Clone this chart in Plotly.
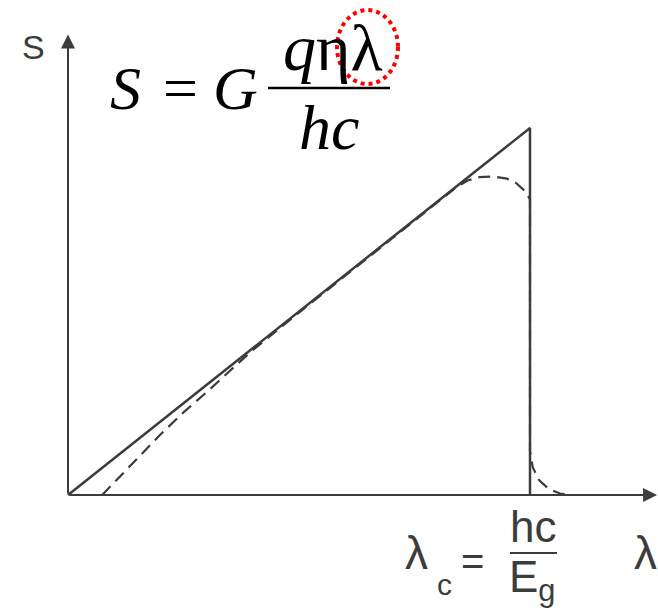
import plotly.graph_objects as go

# Ideal photodetector response: S rises linearly with wavelength up to the cutoff
lam_ideal = [0.0, 1.0, 1.0]
s_ideal = [0.0, 1.0, 0.0]

# Real response (dashed): rounded near the origin, at the peak and past the cutoff
lam_real = [0.074, 0.10, 0.15, 0.20, 0.25, 0.30, 0.35, 0.40, 0.50, 0.60, 0.70, 0.80,
            0.84, 0.865, 0.89, 0.92, 0.95, 0.97, 0.99, 1.0, 1.0, 1.0, 1.0,
            1.006, 1.02, 1.04, 1.065, 1.09]
s_real = [0.0, 0.034, 0.10, 0.165, 0.225, 0.28, 0.338, 0.395, 0.497, 0.598, 0.699, 0.80,
          0.838, 0.857, 0.866, 0.868, 0.862, 0.850, 0.827, 0.805, 0.60, 0.30, 0.12,
          0.075, 0.04, 0.017, 0.004, 0.0]

INK = "#3c3c3c"
W, H = 658, 609

fig = go.Figure()
fig.add_trace(go.Scatter(x=lam_real, y=s_real, mode="lines",
                         line=dict(color=INK, width=2.2, dash="12px,7px"),
                         hoverinfo="skip"))
fig.add_trace(go.Scatter(x=lam_ideal, y=s_ideal, mode="lines",
                         line=dict(color=INK, width=2.5),
                         hoverinfo="skip"))

annotations = []
# axis arrows
annotations.append(dict(x=1.275, y=0, ax=0, ay=0, xref="x", yref="y", axref="x", ayref="y",
                        text="", showarrow=True, arrowhead=2, arrowsize=1.4,
                        arrowwidth=2, arrowcolor=INK))
annotations.append(dict(x=0, y=1.255, ax=0, ay=0, xref="x", yref="y", axref="x", ayref="y",
                        text="", showarrow=True, arrowhead=2, arrowsize=1.4,
                        arrowwidth=2, arrowcolor=INK))

sans = "Liberation Sans"
serif = "Liberation Serif"


def label(x, y, text, size, family=sans, color=INK, xanchor="center"):
    """Place a text at pixel position (x, y) of the figure."""
    annotations.append(dict(x=x / W, y=1 - y / H, xref="paper", yref="paper",
                            xanchor=xanchor, yanchor="middle", text=text,
                            showarrow=False,
                            font=dict(family=family, size=size, color=color)))


def px(x):
    return x / W


def py(y):
    return 1 - y / H


# axis labels
label(33, 47, "S", 34)
label(645, 553, "λ", 46)
# cutoff label
label(416, 553, "λ", 46)
label(444, 584, "c", 30)
label(472, 561, "=", 40)
label(533, 526, "hc", 44)
label(532, 580, "E<sub>g</sub>", 44)

# responsivity formula
label(125, 88, "<i>S</i>", 62, serif, "black")
label(180, 88, "=", 62, serif, "black")
label(235, 88, "<i>G</i>", 62, serif, "black")
label(333, 47, "<i>q</i>ηλ", 66, serif, "black")
label(329, 128, "<i>hc</i>", 64, serif, "black")

shapes = [
    dict(type="line", xref="paper", yref="paper", x0=px(268), x1=px(390),
         y0=py(88), y1=py(88), line=dict(color="black", width=2.5)),
    dict(type="line", xref="paper", yref="paper", x0=px(510), x1=px(557),
         y0=py(553), y1=py(553), line=dict(color=INK, width=2)),
    dict(type="circle", xref="paper", yref="paper", x0=px(337), x1=px(398),
         y0=py(84), y1=py(10), line=dict(color="red", width=4, dash="dot")),
]

fig.update_layout(
    width=W, height=H,
    margin=dict(l=0, r=0, t=0, b=0),
    paper_bgcolor="white", plot_bgcolor="white",
    showlegend=False,
    xaxis=dict(range=[-68 / 462, 590 / 462], visible=False, fixedrange=True),
    yaxis=dict(range=[(495 - 609) / 367, 495 / 367], visible=False, fixedrange=True),
    annotations=annotations,
    shapes=shapes,
)

fig.write_html("out.html", config=dict(displayModeBar=False))
